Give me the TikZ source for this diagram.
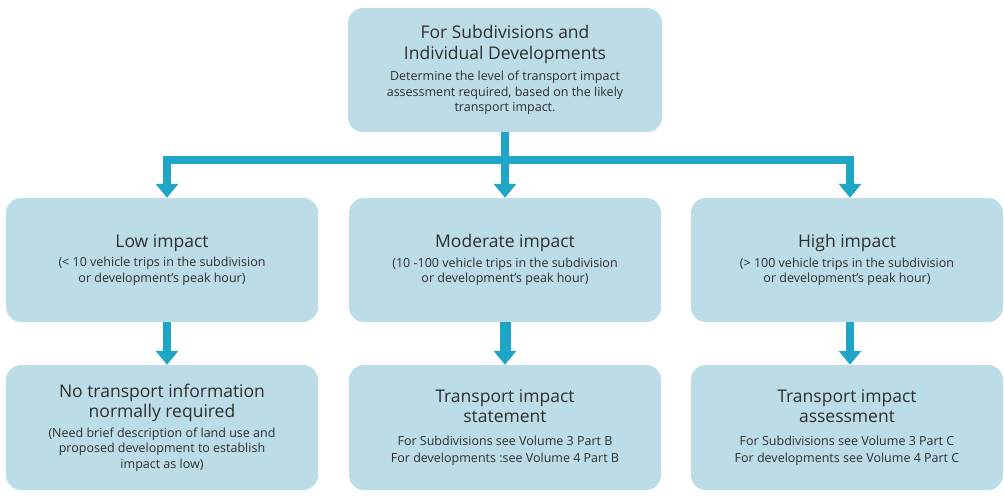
\documentclass[tikz,border=0pt]{standalone}
\usepackage{fontspec}
\setmainfont{Open Sans}
\usetikzlibrary{arrows.meta, positioning}

\definecolor{boxblue}{HTML}{BCDDE7}
\definecolor{flowblue}{HTML}{1FA5C5}
\definecolor{inkgray}{HTML}{2E2E2E}

\newcommand{\hd}[1]{{\fontsize{17.5}{20}\selectfont #1}}

\begin{document}
\begin{tikzpicture}[x=1pt, y=-1pt,
    stage/.style={fill=boxblue, rounded corners=15pt, text=inkgray,
      minimum width=312pt, minimum height=124pt, align=center, inner sep=0pt,
      font=\fontsize{12.5}{15.5}\selectfont},
    flow/.style={draw=flowblue, line width=8pt,
      -{Triangle[width=22pt,length=14pt]}}]

\useasboundingbox (0,0) rectangle (1004,500);

% top box
\node[stage, minimum width=314pt] (top) at (505,70)
  {\hd{For Subdivisions and}\\[5pt] \hd{Individual Developments}\\[6pt]
   Determine the level of transport impact\\
   assessment required, based on the likely\\
   transport impact.};

% impact levels
\node[stage] (low) at (162,260)
  {\hd{Low impact}\\[4pt]
   (< 10 vehicle trips in the subdivision\\
   or development's peak hour)};
\node[stage] (mod) at (505,260)
  {\hd{Moderate impact}\\[4pt]
   (10 -100 vehicle trips in the subdivision\\
   or development's peak hour)};
\node[stage] (high) at (847,260)
  {\hd{High impact}\\[4pt]
   (> 100 vehicle trips in the subdivision\\
   or development's peak hour)};

% what is needed
\node[stage, minimum height=125pt] (none) at (162,427.5)
  {\hd{No transport information}\\[2pt] \hd{normally required}\\[4pt]
   (Need brief description of land use and\\
   proposed development to establish\\
   impact as low)};
\node[stage, minimum height=125pt] (tis) at (505,427.5)
  {\hd{Transport impact}\\[3pt] \hd{statement}\\[7pt]
   For Subdivisions see Volume 3 Part B\\[1.5pt]
   For developments :see Volume 4 Part B};
\node[stage, minimum height=125pt] (tia) at (847,427.5)
  {\hd{Transport impact}\\[3pt] \hd{assessment}\\[7pt]
   For Subdivisions see Volume 3 Part C\\[1.5pt]
   For developments see Volume 4 Part C};

\coordinate (bus) at (505,160);

% branches
\draw[flow] (top.south) -- (mod.north);
\draw[flow] (bus) -| ([xshift=5pt]low.north);
\draw[flow] (bus) -| ([xshift=3pt]high.north);

\draw[flow] ([xshift=5pt]low.south) -- ([xshift=5pt]none.north);
\draw[flow, line width=11pt] (mod.south) -- (tis.north);
\draw[flow] ([xshift=3pt]high.south) -- ([xshift=3pt]tia.north);

\end{tikzpicture}
\end{document}
